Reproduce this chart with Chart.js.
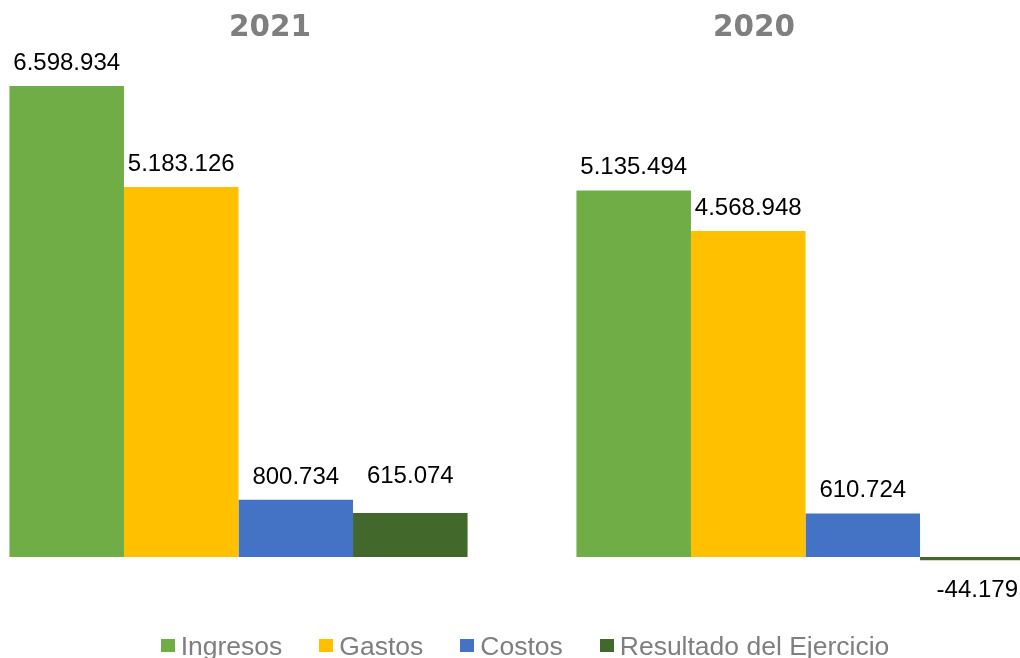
<!DOCTYPE html>
<html>
<head>
<meta charset="utf-8">
<script src="https://cdn.jsdelivr.net/npm/chart.js@4/dist/chart.umd.min.js"></script>
<style>
  html, body { margin: 0; padding: 0; width: 1020px; height: 658px; overflow: hidden; background: #fff; }
  #wrap { position: absolute; left: -45px; top: 0; width: 1134px; height: 658px; }
  .title { position: absolute; top: 9px; transform: translateX(-50%); font: bold 29.5px "DejaVu Sans", sans-serif; color: #7f7f7f; line-height: normal; white-space: nowrap; }
  #legend { position: absolute; top: 631px; left: 0; width: 1050px; display: flex; justify-content: center; gap: 37px; font: 26.5px "Liberation Sans", Arial, sans-serif; color: #7f7f7f; line-height: normal; white-space: nowrap; }
  #legend .item { display: flex; align-items: center; }
  #legend .sw { width: 14px; height: 13px; margin-right: 6px; position: relative; top: -1px; }
</style>
</head>
<body>
<div id="wrap"><canvas id="c" width="1134" height="658"></canvas></div>
<div class="title" style="left:270px">2021</div>
<div class="title" style="left:754px">2020</div>
<div id="legend"></div>
<script>
const categories = ['2021', '2020'];
const seriesNames = ['Ingresos', 'Gastos', 'Costos', 'Resultado del Ejercicio'];
const ingresos = [6598934, 5135494];
const gastos = [5183126, 4568948];
const costos = [800734, 610724];
const resultado = [615074, -44179];
const colors = ['#70AD47', '#FFC000', '#4472C4', '#43682B'];

const seriesValues = [ingresos, gastos, costos, resultado];

function fmt(v) {
  const neg = v < 0;
  let s = Math.abs(Math.round(v)).toString();
  s = s.replace(/\B(?=(\d{3})+(?!\d))/g, '.');
  return (neg ? '-' : '') + s;
}

const labelPlugin = {
  id: 'valueLabels',
  afterDatasetsDraw(chart, args, opts) {
    const ctx = chart.ctx;
    ctx.save();
    ctx.font = '24px "Liberation Sans", Arial, sans-serif';
    ctx.fillStyle = '#000';
    ctx.textAlign = 'center';
    ctx.textBaseline = 'alphabetic';
    chart.data.datasets.forEach((ds, di) => {
      const meta = chart.getDatasetMeta(di);
      meta.data.forEach((el, i) => {
        const v = ds.data[i];
        const lift = (opts.lift && opts.lift[di + ':' + i]) || 0;
        let y;
        if (v >= 0) y = el.y - 16 - lift;
        else y = el.y + 37;
        ctx.fillText(fmt(v), el.x, y);
      });
    });
    ctx.restore();
  }
};

new Chart(document.getElementById('c'), {
  type: 'bar',
  data: {
    labels: categories,
    datasets: seriesNames.map((n, i) => ({
      label: n,
      data: seriesValues[i],
      backgroundColor: colors[i],
      borderWidth: 0,
      categoryPercentage: 0.808,
      barPercentage: 1.0
    }))
  },
  options: {
    responsive: false,
    animation: false,
    layout: { padding: 0 },
    scales: {
      x: { display: false, offset: true },
      y: { display: false, min: -1415000, max: 7804000 }
    },
    plugins: {
      legend: { display: false },
      tooltip: { enabled: false },
      valueLabels: { lift: { '3:0': 14 } }
    }
  },
  plugins: [labelPlugin]
});

const lg = document.getElementById('legend');
seriesNames.forEach((n, i) => {
  const it = document.createElement('div');
  it.className = 'item';
  const sw = document.createElement('span');
  sw.className = 'sw';
  sw.style.background = colors[i];
  const tx = document.createElement('span');
  tx.textContent = n;
  it.appendChild(sw);
  it.appendChild(tx);
  lg.appendChild(it);
});
</script>
</body>
</html>
